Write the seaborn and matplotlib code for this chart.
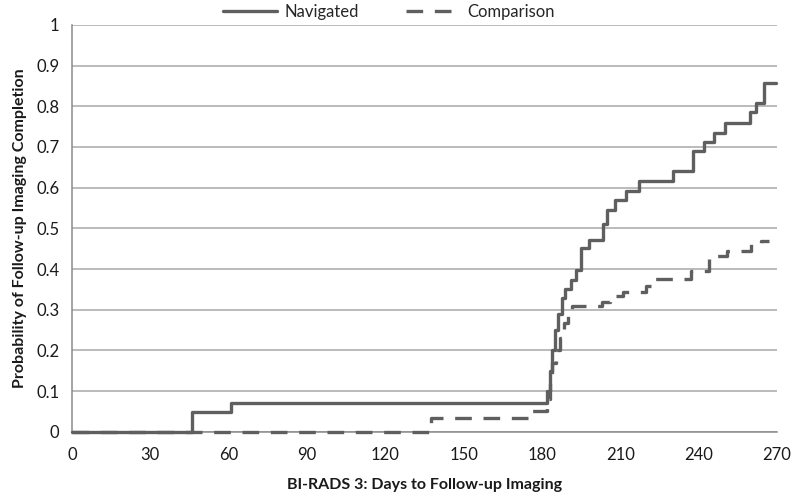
import seaborn as sns
import matplotlib.pyplot as plt
import pandas as pd

# 读图估计的数值 (days, probability)
nav_days = [0, 46, 61, 182, 183, 184, 185, 186, 187.5, 189, 191, 193, 195, 198, 203.5, 205,
            208, 212, 217, 230, 238, 242, 246, 250, 259.5, 262, 265, 269.6]
nav_prob = [0, 0.05, 0.072, 0.10, 0.15, 0.20, 0.25, 0.29, 0.33, 0.35, 0.373, 0.398, 0.451, 0.472, 0.51, 0.545,
            0.57, 0.593, 0.617, 0.64, 0.69, 0.712, 0.735, 0.76, 0.785, 0.808, 0.857, 0.857]

comp_days = [0, 137.5, 175, 182, 183, 184, 185.5, 187, 188.5, 190, 191.5, 203, 206, 211, 220, 222.5,
             237, 244, 251, 260, 264, 267]
comp_prob = [0, 0.034, 0.052, 0.08, 0.13, 0.17, 0.20, 0.23, 0.267, 0.29, 0.31, 0.32, 0.333, 0.343, 0.359, 0.375,
             0.396, 0.431, 0.445, 0.464, 0.468, 0.468]

x_ticks = list(range(0, 271, 30))
y_ticks = [0, 0.1, 0.2, 0.3, 0.4, 0.5, 0.6, 0.7, 0.8, 0.9, 1]
y_labels = ['0', '0.1', '0.2', '0.3', '0.4', '0.5', '0.6', '0.7', '0.8', '0.9', '1']

df = pd.concat([
    pd.DataFrame({'day': nav_days, 'prob': nav_prob, 'group': 'Navigated'}),
    pd.DataFrame({'day': comp_days, 'prob': comp_prob, 'group': 'Comparison'}),
])

sns.set_style('white')
plt.rcParams['font.family'] = ['Lato', 'DejaVu Sans']

fig, ax = plt.subplots(figsize=(7.92, 4.97), dpi=100)
fig.subplots_adjust(left=0.091, right=0.981, top=0.95, bottom=0.131)

line_color = '#5f5f5f'
sns.lineplot(data=df, x='day', y='prob', hue='group', style='group',
             palette={'Navigated': line_color, 'Comparison': line_color},
             dashes={'Navigated': '', 'Comparison': (5, 3.5)},
             drawstyle='steps-post', linewidth=2.4, sort=False, ax=ax)
for ln in ax.lines:
    ln.set_clip_on(False)
    ln.set_zorder(3)

ax.set_xlim(0, 270)
ax.set_ylim(0, 1)
ax.set_xticks(x_ticks)
ax.set_yticks(y_ticks)
ax.set_yticklabels(y_labels)
ax.yaxis.grid(True, color='#a8a8a8', linewidth=1.1)
ax.xaxis.grid(False)
ax.set_axisbelow(True)
for side in ['top', 'right']:
    ax.spines[side].set_visible(False)
for side in ['left', 'bottom']:
    ax.spines[side].set_color('#8a8a8a')
    ax.spines[side].set_linewidth(1.1)
    ax.spines[side].set_zorder(2)
ax.tick_params(axis='both', direction='out', length=5, width=1, color='#8a8a8a',
               labelsize=12, labelcolor='#1a1a1a', pad=4)
ax.tick_params(axis='x', pad=6)

ax.set_xlabel('BI-RADS 3: Days to Follow-up Imaging', fontsize=11.5, fontweight='bold',
              color='#1a1a1a', labelpad=11)
ax.set_ylabel('Probability of Follow-up Imaging Completion', fontsize=11.5, fontweight='bold',
              color='#1a1a1a', labelpad=7)

ax.legend(title=None, loc='lower center', bbox_to_anchor=(0.45, 0.995), ncol=2, frameon=False,
          fontsize=12, handlelength=3.2, handletextpad=0.5, columnspacing=2.8, borderaxespad=0)

plt.savefig('out.png', dpi=100)
